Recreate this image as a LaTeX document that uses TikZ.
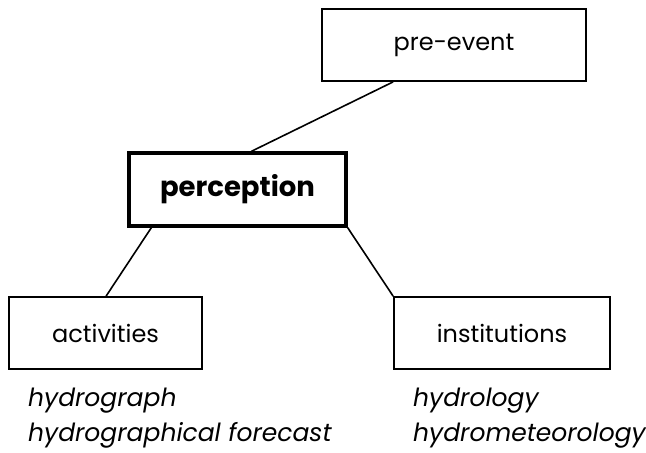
\documentclass[tikz,border=0pt]{standalone}
\usepackage{fontspec}
\setmainfont{Poppins}
\begin{document}
\begin{tikzpicture}[x=1pt,y=-1pt,
  box/.style={draw, line width=1.8pt, rectangle, inner sep=0pt, font=\fontsize{24}{28}\selectfont},
  mainbox/.style={box, line width=3.3pt, font=\fontsize{27.5}{32}\selectfont\bfseries},
  link/.style={line width=1.6pt},
  note/.style={anchor=base west, inner sep=0pt, font=\fontsize{25}{30}\selectfont\itshape}]
\useasboundingbox (0,0) rectangle (646,453);
\node[box, minimum width=264pt, minimum height=72pt] (pre) at (454,45) {pre-event};
\node[mainbox, minimum width=217pt, minimum height=73pt] (perc) at (237.5,189.5) {perception};
\node[box, minimum width=193pt, minimum height=72pt] (act) at (105.5,333) {activities};
\node[box, minimum width=216pt, minimum height=72pt] (inst) at (502,333) {institutions};
\draw[link] ([xshift=72pt]pre.south west) -- ([xshift=124pt]perc.north west);
\draw[link] ([xshift=24pt]perc.south west) -- ([xshift=98pt]act.north west);
\draw[link] (perc.south east) -- (inst.north west);
\node[note] (a1) at (28,406) {hydrograph};
\node[note] (a2) at (28,441) {hydrographical forecast};
\node[note] (i1) at (413,406) {hydrology};
\node[note] (i2) at (413,441) {hydrometeorology};
\end{tikzpicture}
\end{document}
